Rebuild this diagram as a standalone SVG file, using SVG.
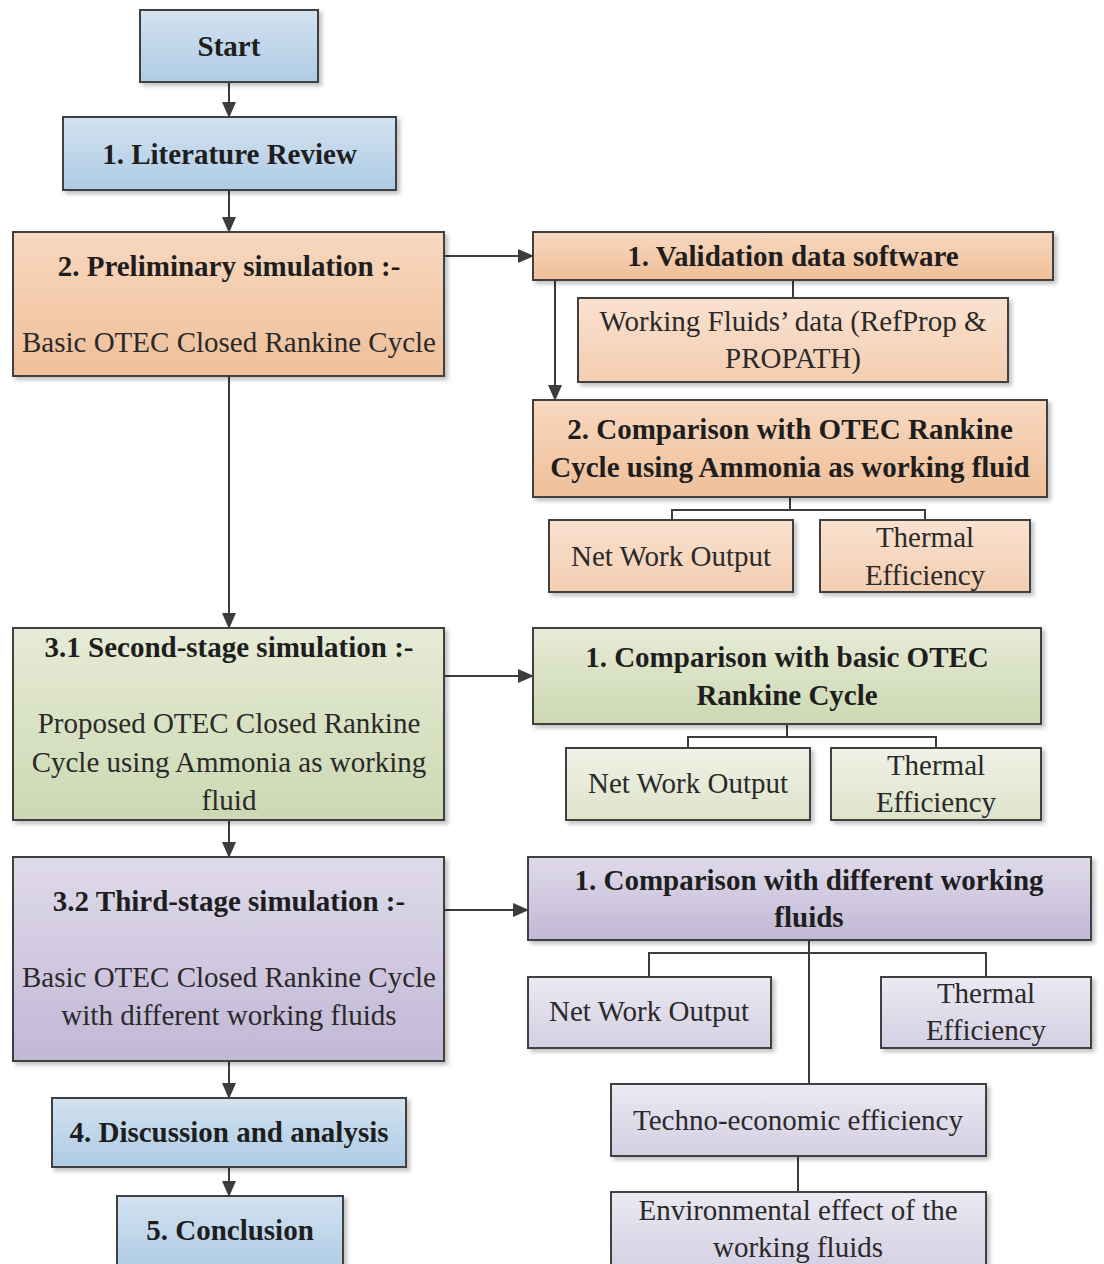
<svg xmlns="http://www.w3.org/2000/svg" width="1104" height="1264" viewBox="0 0 1104 1264">
  <defs>
    <linearGradient id="gBlue" x1="0" y1="0" x2="0" y2="1">
      <stop offset="0" stop-color="#d2e2f0"/>
      <stop offset="1" stop-color="#aecbe4"/>
    </linearGradient>
    <linearGradient id="gOrange" x1="0" y1="0" x2="0" y2="1">
      <stop offset="0" stop-color="#f8d8bf"/>
      <stop offset="1" stop-color="#efbf99"/>
    </linearGradient>
    <linearGradient id="gOrangeLt" x1="0" y1="0" x2="0" y2="1">
      <stop offset="0" stop-color="#fae2d0"/>
      <stop offset="1" stop-color="#f3cdb0"/>
    </linearGradient>
    <linearGradient id="gGreen" x1="0" y1="0" x2="0" y2="1">
      <stop offset="0" stop-color="#e6ebd6"/>
      <stop offset="1" stop-color="#cdd8b2"/>
    </linearGradient>
    <linearGradient id="gGreenLt" x1="0" y1="0" x2="0" y2="1">
      <stop offset="0" stop-color="#f0f2e6"/>
      <stop offset="1" stop-color="#dde3ca"/>
    </linearGradient>
    <linearGradient id="gPurple" x1="0" y1="0" x2="0" y2="1">
      <stop offset="0" stop-color="#dfdaea"/>
      <stop offset="1" stop-color="#c1b8d6"/>
    </linearGradient>
    <linearGradient id="gPurpleLt" x1="0" y1="0" x2="0" y2="1">
      <stop offset="0" stop-color="#ebe9f2"/>
      <stop offset="1" stop-color="#d4cfe3"/>
    </linearGradient>
    <filter id="shadow" x="-5%" y="-5%" width="115%" height="125%">
      <feDropShadow dx="3" dy="3" stdDeviation="2" flood-color="#000" flood-opacity="0.25"/>
    </filter>
    <marker id="arrow" markerUnits="userSpaceOnUse" markerWidth="16" markerHeight="14" refX="15" refY="7" orient="auto">
      <path d="M0,0 L16,7 L0,14 Z" fill="#3c3c3c"/>
    </marker>
  </defs>
  <style>
    rect { stroke: #3f3f3f; stroke-width: 2; filter: url(#shadow); }
    .blue { fill: url(#gBlue); }
    .orange { fill: url(#gOrange); }
    .orangeLt { fill: url(#gOrangeLt); }
    .green { fill: url(#gGreen); }
    .greenLt { fill: url(#gGreenLt); }
    .purple { fill: url(#gPurple); }
    .purpleLt { fill: url(#gPurpleLt); }
    text { font-family: "Liberation Serif", "Times New Roman", serif; font-size: 29px; fill: #1e1e1e; text-anchor: middle; }
    .b { font-weight: bold; }
    .r { fill: #2a2a2a; }
    .conn line, .conn path { stroke: #3c3c3c; stroke-width: 2; fill: none; }
    .arr { marker-end: url(#arrow); }
  </style>

  <rect width="1104" height="1264" fill="#ffffff" style="stroke:none;filter:none"/>

  <!-- connectors -->
  <g id="connectors" class="conn">
    <line class="arr" x1="229" y1="82" x2="229" y2="117"/>
    <line class="arr" x1="229" y1="190" x2="229" y2="232"/>
    <line class="arr" x1="229" y1="376" x2="229" y2="628"/>
    <line class="arr" x1="229" y1="820" x2="229" y2="857"/>
    <line class="arr" x1="229" y1="1061" x2="229" y2="1098"/>
    <line class="arr" x1="229" y1="1167" x2="229" y2="1196"/>
    <line class="arr" x1="444" y1="256" x2="533" y2="256"/>
    <line class="arr" x1="555" y1="280" x2="555" y2="400"/>
    <line class="arr" x1="444" y1="676" x2="533" y2="676"/>
    <line class="arr" x1="444" y1="910" x2="528" y2="910"/>
    <!-- tree branches -->
    <line x1="793" y1="280" x2="793" y2="298"/>
    <path d="M790,497 V510 M672,520 V510 H925 V520"/>
    <path d="M787,724 V737 M688,748 V737 H936 V748"/>
    <path d="M809,940 V1084 M649,976 V953 H986 V976"/>
    <line x1="798" y1="1156" x2="798" y2="1192"/>
  </g>

  <!-- main column -->
  <g id="start">
    <rect class="blue" x="140" y="10" width="178" height="72"/>
    <text class="b" x="229" y="56">Start</text>
  </g>
  <g id="literature-review">
    <rect class="blue" x="63" y="117" width="333" height="73"/>
    <text class="b" x="229.5" y="164">1. Literature Review</text>
  </g>
  <g id="preliminary-simulation">
    <rect class="orange" x="13" y="232" width="431" height="144"/>
    <text class="b" x="229" y="276">2. Preliminary simulation :-</text>
    <text class="r" x="229" y="352">Basic OTEC Closed Rankine Cycle</text>
  </g>
  <g id="second-stage-simulation">
    <rect class="green" x="13" y="628" width="431" height="192"/>
    <text class="b" x="229" y="657">3.1 Second-stage simulation :-</text>
    <text class="r" x="229" y="733">Proposed OTEC Closed Rankine</text>
    <text class="r" x="229" y="772">Cycle using Ammonia as working</text>
    <text class="r" x="229" y="810">fluid</text>
  </g>
  <g id="third-stage-simulation">
    <rect class="purple" x="13" y="857" width="431" height="204"/>
    <text class="b" x="229" y="911">3.2 Third-stage simulation :-</text>
    <text class="r" x="229" y="987">Basic OTEC Closed Rankine Cycle</text>
    <text class="r" x="229" y="1025">with different working fluids</text>
  </g>
  <g id="discussion">
    <rect class="blue" x="52" y="1098" width="354" height="69"/>
    <text class="b" x="229" y="1142">4. Discussion and analysis</text>
  </g>
  <g id="conclusion">
    <rect class="blue" x="117" y="1196" width="226" height="76"/>
    <text class="b" x="230" y="1240">5. Conclusion</text>
  </g>

  <!-- preliminary branch -->
  <g id="validation-data">
    <rect class="orange" x="533" y="232" width="520" height="48"/>
    <text class="b" x="793" y="266">1. Validation data software</text>
  </g>
  <g id="working-fluids-data">
    <rect class="orangeLt" x="578" y="298" width="430" height="84"/>
    <text class="r" x="793" y="331">Working Fluids’ data (RefProp &amp;</text>
    <text class="r" x="793" y="368">PROPATH)</text>
  </g>
  <g id="comparison-ammonia">
    <rect class="orange" x="533" y="400" width="514" height="97"/>
    <text class="b" x="790" y="439">2. Comparison with OTEC Rankine</text>
    <text class="b" x="790" y="477">Cycle using Ammonia as working fluid</text>
  </g>
  <g id="net-work-1">
    <rect class="orangeLt" x="549" y="520" width="244" height="72"/>
    <text class="r" x="671" y="566">Net Work Output</text>
  </g>
  <g id="thermal-efficiency-1">
    <rect class="orangeLt" x="820" y="520" width="210" height="72"/>
    <text class="r" x="925" y="547">Thermal</text>
    <text class="r" x="925" y="585">Efficiency</text>
  </g>

  <!-- second-stage branch -->
  <g id="comparison-basic">
    <rect class="green" x="533" y="628" width="508" height="96"/>
    <text class="b" x="787" y="667">1. Comparison with basic OTEC</text>
    <text class="b" x="787" y="705">Rankine Cycle</text>
  </g>
  <g id="net-work-2">
    <rect class="greenLt" x="566" y="748" width="244" height="72"/>
    <text class="r" x="688" y="793">Net Work Output</text>
  </g>
  <g id="thermal-efficiency-2">
    <rect class="greenLt" x="831" y="748" width="210" height="72"/>
    <text class="r" x="936" y="775">Thermal</text>
    <text class="r" x="936" y="812">Efficiency</text>
  </g>

  <!-- third-stage branch -->
  <g id="comparison-fluids">
    <rect class="purple" x="528" y="857" width="563" height="83"/>
    <text class="b" x="809" y="890">1. Comparison with different working</text>
    <text class="b" x="809" y="927">fluids</text>
  </g>
  <g id="net-work-3">
    <rect class="purpleLt" x="528" y="977" width="243" height="71"/>
    <text class="r" x="649" y="1021">Net Work Output</text>
  </g>
  <g id="thermal-efficiency-3">
    <rect class="purpleLt" x="881" y="977" width="210" height="71"/>
    <text class="r" x="986" y="1003">Thermal</text>
    <text class="r" x="986" y="1040">Efficiency</text>
  </g>
  <g id="techno-economic">
    <rect class="purpleLt" x="611" y="1084" width="375" height="72"/>
    <text class="r" x="798" y="1130">Techno-economic efficiency</text>
  </g>
  <g id="environmental-effect">
    <rect class="purpleLt" x="611" y="1192" width="375" height="80"/>
    <text class="r" x="798" y="1220">Environmental effect of the</text>
    <text class="r" x="798" y="1257">working fluids</text>
  </g>
</svg>
